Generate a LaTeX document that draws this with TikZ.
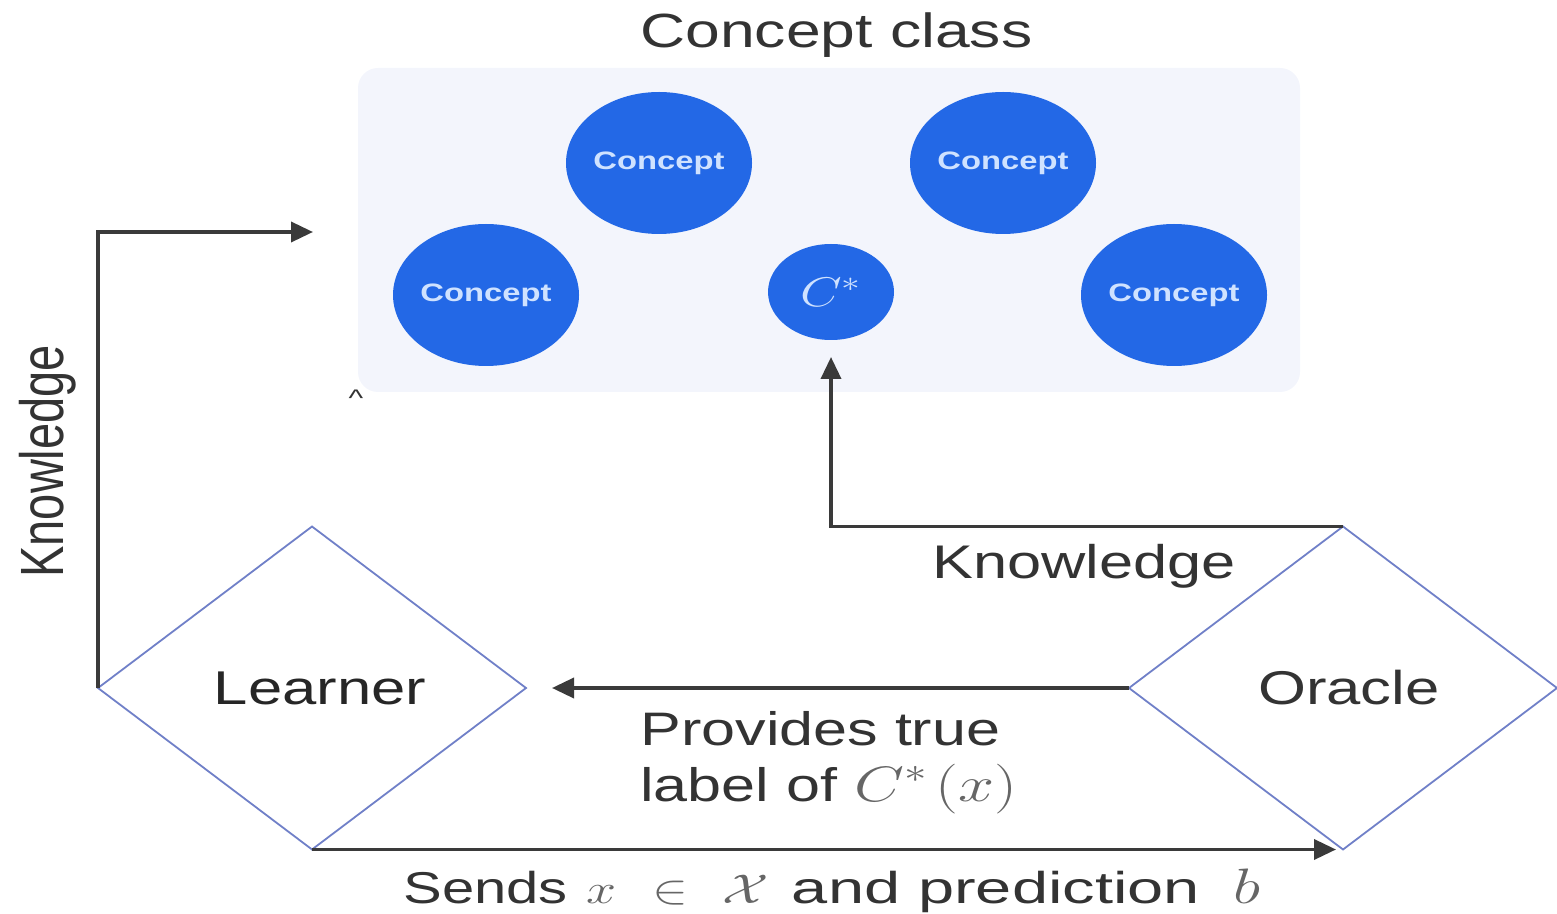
\documentclass[tikz,border=0pt]{standalone}
\usepackage{fontspec}
\setmainfont{Liberation Sans}
\usetikzlibrary{arrows.meta,shapes.geometric}
\definecolor{txt}{HTML}{333333}
\definecolor{bgpanel}{HTML}{F3F5FC}
\definecolor{cblue}{HTML}{2368E6}
\definecolor{ctext}{HTML}{CFE2FF}
\definecolor{dline}{HTML}{7080C8}
\definecolor{aline}{HTML}{3A3A3A}
\newcommand{\sx}[1]{\scalebox{1.3}[1]{#1}}
\begin{document}
\begin{tikzpicture}[x=0.5pt,y=-0.5pt,
  panel/.style={draw=none,fill=bgpanel,rounded corners=10pt,minimum width=471pt,minimum height=162pt,inner sep=0pt},
  concept/.style={ellipse,fill=cblue,draw=none,minimum width=93pt,minimum height=71pt,inner sep=0pt,text=ctext,font=\fontsize{12.6}{14}\selectfont\bfseries},
  cstar/.style={ellipse,fill=cblue,draw=none,minimum width=63pt,minimum height=48pt,inner sep=0pt,text=ctext,font=\fontsize{22}{24}\selectfont},
  dia/.style={diamond,draw=dline,line width=0.9pt,fill=white,minimum width=214pt,minimum height=161.5pt,aspect=1.33,inner sep=0pt,outer sep=0pt,font=\fontsize{23.7}{28}\selectfont},
  lbl/.style={inner sep=0pt,text=txt,anchor=base west,font=\fontsize{23.5}{28}\selectfont},
  conn/.style={draw=aline,line width=1.8pt,-{Triangle[length=11pt,width=10pt]}}
]
\useasboundingbox (0,0) rectangle (1557,914);

% panel
\node[panel] (cls) at (829,230) {};
\node[lbl,font=\fontsize{24}{28}\selectfont] (clstitle) at (640,48) {\sx{Concept class}};

% concepts
\node[concept] (c1) at (659,163) {\sx{Concept}};
\node[concept] (c2) at (1003,163) {\sx{Concept}};
\node[concept] (c3) at (486,295) {\sx{Concept}};
\node[concept] (c4) at (1174,295) {\sx{Concept}};
\node[cstar] (cs) at (831,292) {\sx{$C^{*}$}};

% stray caret
\node[inner sep=0pt,text=txt,font=\fontsize{12}{14}\selectfont] (caret) at (356,398) {\sx{\textasciicircum}};

% diamonds
\node[dia,text=black!85] (L) at (312,688) {\hspace*{8pt}\sx{Learner}};
\node[dia,text=txt] (O) at (1343,688) {\hspace*{6pt}\sx{Oracle}};

% connector end points
\coordinate (kn) at (313,232);
\coordinate (ct) at (831,357);
\coordinate (lt) at (552,688);
\coordinate (ot) at (1336,852);

% connectors
\draw[conn] (L.west) -- (L.west |- kn) -- (kn);
\draw[conn] (O.north) -| (ct);
\draw[conn] (O.west) -- (lt);
\draw[conn] (L.south) -- (L.south -| ot);

% labels
\node[lbl,anchor=south west] (kv) at (19,578) {\sx{\rotatebox{90}{Knowledge}}};
\node[lbl,font=\fontsize{23.6}{28}\selectfont] (kh) at (932,578) {\sx{Knowledge}};
\node[lbl] (prov1) at (640,745) {\sx{Provides true}};
\node[lbl] (prov2) at (640,801) {\sx{label of \textcolor{black!60}{$C^{*}$}\hspace{3pt}\textcolor{black!60}{$(x)$}}};
\node[lbl,font=\fontsize{22.3}{28}\selectfont] (sends) at (403,903) {\sx{Sends\hspace{7pt}\textcolor{black!60}{$x$}\hspace{14pt}\textcolor{black!60}{$\in$}\hspace{13pt}\textcolor{black!60}{$\mathcal{X}$}\hspace{9pt}\scalebox{1.12}[1]{and prediction}\hspace{13pt}\textcolor{black!60}{\scalebox{1.2}{$b$}}}};
\end{tikzpicture}
\end{document}
